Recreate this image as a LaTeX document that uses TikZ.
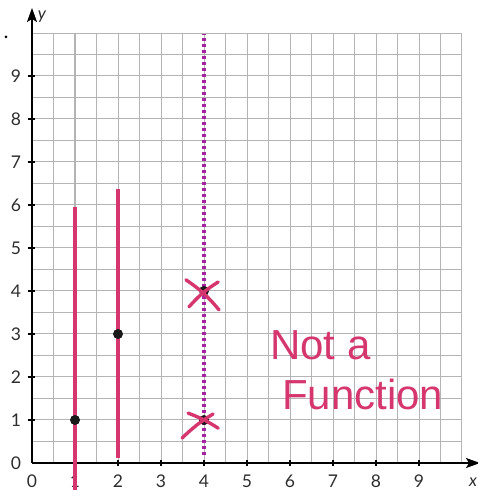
\documentclass[tikz,border=0pt]{standalone}
\usepackage{fontspec}
\usetikzlibrary{arrows.meta}
\setmainfont{Lato}
\newfontfamily\handfont{Liberation Sans}
\definecolor{penpink}{RGB}{214,54,110}
\definecolor{penpurple}{RGB}{165,35,160}
\definecolor{gridgray}{RGB}{180,180,180}
\definecolor{labelgray}{RGB}{45,45,45}
\begin{document}
\begin{tikzpicture}[x=43pt,y=43pt,
  gridline/.style={gridgray,line width=1pt},
  axisline/.style={black,line width=1.5pt},
  axistip/.style={-{Stealth[length=14pt,width=10pt,inset=3pt]}},
  ticklabel/.style={text=labelgray,font=\fontsize{17.5}{17.5}\selectfont,inner sep=0pt},
  penline/.style={penpink,line width=3.5pt},
  penstroke/.style={penpink,line width=3.4pt,line cap=round},
  dotpt/.style={circle,fill=black!90,inner sep=0pt,minimum size=10pt},
  handtext/.style={text=penpink,font=\handfont\fontsize{42}{42}\selectfont,inner sep=0pt,anchor=base west}]
\useasboundingbox (-32pt,-27pt) rectangle (445pt,463pt);
% grid
\draw[gridline] (0,0) grid[step=0.5] (10,10);
% axes
\coordinate (O) at (0,0);
\coordinate (xend) at (448pt,0);
\coordinate (yend) at (0,455pt);
\draw[axisline,axistip] (O) -- (xend);
\draw[axisline,axistip] (O) -- (yend);
\foreach \i in {1,...,9} {
  \draw[axisline,line width=1.2pt] (\i,-3pt) -- (\i,3pt);
  \draw[axisline,line width=1.2pt] (-4pt,\i) -- (3pt,\i);
  \node[ticklabel] (xl\i) at ([yshift=-18pt]\i,0) {\i};
  \node[ticklabel] (yl\i) at ([xshift=-16pt]0,\i) {\i};
}
\node[ticklabel] (xl0) at (0,-18pt) {0};
\node[ticklabel] (yl0) at (-16pt,0) {0};
\node[ticklabel,font=\itshape\fontsize{17}{17}\selectfont] (xlab) at (441pt,-19pt) {x};
\node[ticklabel,font=\itshape\fontsize{17}{17}\selectfont] (ylab) at (10pt,446pt) {y};
\node[circle,fill=black,inner sep=0pt,minimum size=3pt] (stray) at (-26pt,426pt) {};
% vertical pen lines
\coordinate (a1) at (1,-0.65);
\coordinate (a2) at (1,5.95);
\coordinate (b1) at (2,0.12);
\coordinate (b2) at (2,6.37);
\draw[penline] (a1) -- (a2);
\draw[penline] (b1) -- (b2);
% dotted vertical line
\coordinate (d1) at (4,0.19);
\coordinate (d2) at (4,9.98);
\draw[penpurple,line width=3.2pt,dash pattern=on 3pt off 3pt] (d1) -- (d2);
% points
\node[dotpt] (p1) at (1,1) {};
\node[dotpt] (p2) at (2,3) {};
\node[dotpt] (p3) at (4,4) {};
\node[dotpt] (p4) at (4,1) {};
% crosses (drawn over the points)
\coordinate (c1a) at (3.58,4.26);
\coordinate (c1b) at (4.35,3.56);
\coordinate (c1c) at (4.33,4.21);
\coordinate (c1d) at (3.65,3.63);
\draw[penstroke] (c1a) to[bend left=8] (c1b);
\draw[penstroke] (c1c) to[bend right=8] (c1d);
\coordinate (c2a) at (3.63,1.16);
\coordinate (c2b) at (4.33,0.81);
\coordinate (c2c) at (4.21,1.14);
\coordinate (c2d) at (3.49,0.58);
\draw[penstroke] (c2a) to[bend left=6] (c2b);
\draw[penstroke] (c2c) to[bend right=6] (c2d);
% handwriting
\node[handtext] (t1) at (238pt,103pt) {Not a};
\node[handtext] (t2) at (250pt,53pt) {Function};
\end{tikzpicture}
\end{document}
